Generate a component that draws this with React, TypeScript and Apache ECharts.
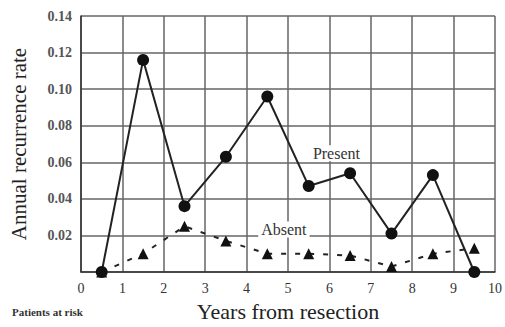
import React, { useEffect, useRef } from "react";
import * as echarts from "echarts";

const years = [0.5, 1.5, 2.5, 3.5, 4.5, 5.5, 6.5, 7.5, 8.5, 9.5];
const presentRates = [0, 0.116, 0.036, 0.063, 0.096, 0.047, 0.054, 0.021, 0.053, 0];
const absentRates = [0, 0.010, 0.025, 0.017, 0.010, 0.010, 0.009, 0.003, 0.010, 0.013];
const xTicks = [0, 1, 2, 3, 4, 5, 6, 7, 8, 9, 10];
const yTicks = [0.02, 0.04, 0.06, 0.08, 0.1, 0.12, 0.14];

const FONT = "'Liberation Serif', 'DejaVu Serif', serif";

export default function App() {
  const ref = useRef<HTMLDivElement>(null);
  useEffect(() => {
    document.body.style.margin = "0";
    const chart = echarts.init(ref.current!, null, { renderer: "svg" });
    const presentData = years.map((x, i) => [x, presentRates[i]]);
    const absentData = years.map((x, i) => [x, absentRates[i]]);
    chart.setOption({
      animation: false,
      backgroundColor: "#ffffff",
      grid: { left: 77, right: 8, top: 16, bottom: 53 },
      xAxis: {
        type: "value",
        min: 0,
        max: 10,
        interval: 1,
        name: "Years from resection",
        nameLocation: "middle",
        nameGap: 28,
        nameTextStyle: { fontFamily: FONT, fontSize: 22, color: "#222" },
        axisLine: { show: true, lineStyle: { color: "#333", width: 1.5 } },
        axisTick: { show: false },
        axisLabel: {
          fontFamily: FONT,
          fontSize: 14,
          color: "#333",
          margin: 9,
          formatter: (v: number) => (xTicks.includes(v) ? String(v) : ""),
        },
        splitLine: { show: true, lineStyle: { color: "#666", width: 1.5 } },
      },
      yAxis: {
        type: "value",
        min: 0,
        max: 0.14,
        interval: 0.02,
        name: "Annual recurrence rate",
        nameLocation: "middle",
        nameGap: 52,
        nameTextStyle: { fontFamily: FONT, fontSize: 21, color: "#222" },
        axisLine: { show: true, lineStyle: { color: "#333", width: 1.5 } },
        axisTick: { show: false },
        axisLabel: {
          fontFamily: FONT,
          fontSize: 14,
          fontWeight: "bold",
          color: "#555",
          margin: 9,
          formatter: (v: number) => {
            const t = yTicks.find((y) => Math.abs(y - v) < 1e-9);
            return t !== undefined ? t.toFixed(2) : "";
          },
        },
        splitLine: { show: true, lineStyle: { color: "#666", width: 1.5 } },
      },
      series: [
        {
          name: "Absent",
          type: "line",
          data: absentData,
          symbol: "triangle",
          symbolSize: 11,
          itemStyle: { color: "#111" },
          lineStyle: { color: "#222", width: 2, type: [5, 9] },
          z: 3,
          markPoint: {
            symbol: "rect",
            symbolSize: [0, 0],
            data: [{ coord: [4.9, 0.0233], value: "Absent" }],
            label: {
              show: true,
              formatter: "Absent",
              fontFamily: FONT,
              fontSize: 16,
              color: "#333",
              backgroundColor: "#fff",
              padding: [0, 3],
            },
          },
        },
        {
          name: "Present",
          type: "line",
          data: presentData,
          symbol: "circle",
          symbolSize: 12,
          itemStyle: { color: "#111" },
          lineStyle: { color: "#222", width: 2 },
          z: 4,
          markPoint: {
            symbol: "rect",
            symbolSize: [0, 0],
            data: [{ coord: [6.17, 0.065], value: "Present" }],
            label: {
              show: true,
              formatter: "Present",
              fontFamily: FONT,
              fontSize: 16,
              color: "#333",
              backgroundColor: "#fff",
              padding: [0, 3],
            },
          },
        },
      ],
      graphic: [
        {
          type: "text",
          left: 12,
          top: 306,
          style: {
            text: "Patients at risk",
            fontFamily: FONT,
            fontSize: 11,
            fontWeight: "bold",
            fill: "#333",
          },
        },
      ],
    });
    return () => chart.dispose();
  }, []);
  return <div ref={ref} style={{ width: 505, height: 327 }} />;
}
